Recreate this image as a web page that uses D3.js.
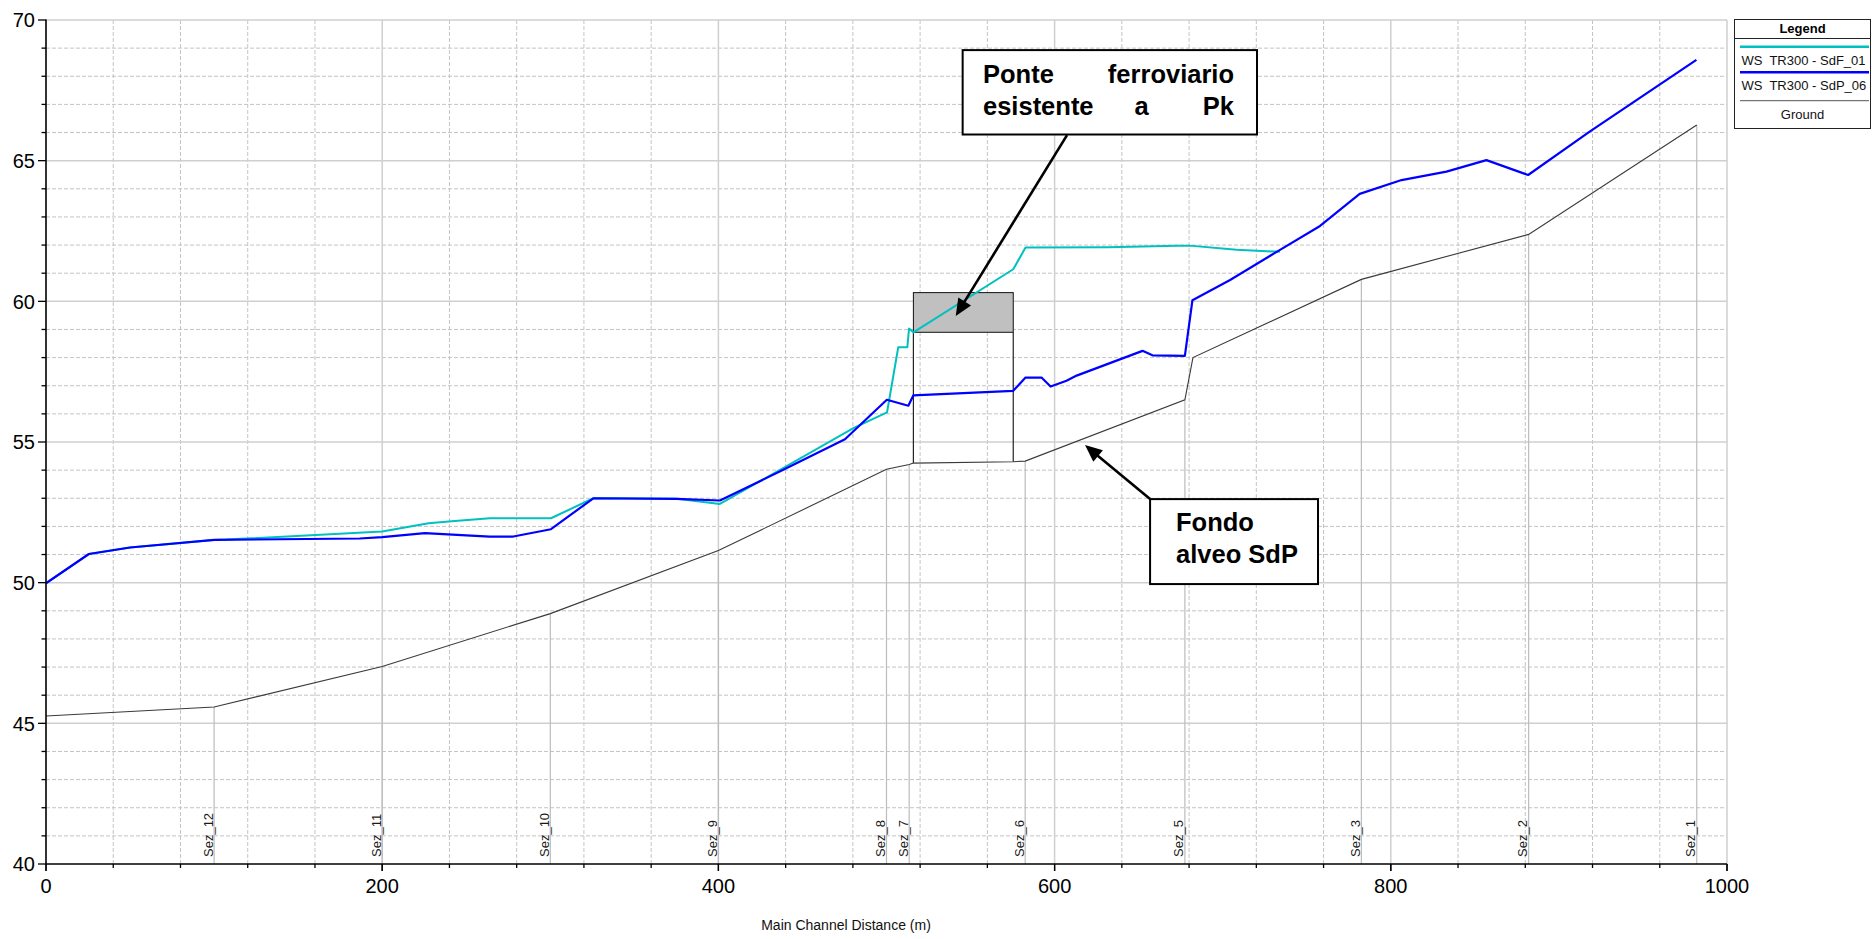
<!DOCTYPE html>
<html>
<head>
<meta charset="utf-8">
<script src="https://cdn.jsdelivr.net/npm/d3@7"></script>
<style>
  html, body { margin: 0; padding: 0; background: #fff; }
  svg { display: block; font-family: "Liberation Sans", Arial, sans-serif; }
  .keep-spaces { white-space: pre; }
</style>
</head>
<body>
<svg id="chart" width="1872" height="939"></svg>
<script>
// Longitudinal profile: main channel distance (m) vs elevation (m)
const groundProfile = [
  [0, 45.26], [100, 45.58], [200, 47.02], [300, 48.9], [400, 51.14],
  [500, 54.03], [513.5, 54.2], [516, 54.25], [575.4, 54.3], [582.5, 54.32],
  [677.5, 56.5], [682.3, 58.0], [782.5, 60.78], [882, 62.38], [982, 66.27]
];

const wsSdF01 = [
  [0, 49.98], [25.5, 51.02], [50, 51.25], [100, 51.52], [107, 51.53],
  [200, 51.82], [227.6, 52.11], [241.3, 52.18], [264, 52.29], [300.4, 52.29],
  [325.6, 53.0], [375.2, 52.98], [400.9, 52.8], [480.3, 55.49], [500.3, 56.05],
  [507, 58.37], [512.4, 58.37], [513.4, 59.03], [516, 58.9], [575.4, 61.14],
  [582.7, 61.91], [631.9, 61.92], [672.5, 61.98], [680.4, 61.98], [708.3, 61.83],
  [734, 61.76]
];

const wsSdP06 = [
  [0, 49.98], [25.5, 51.02], [50, 51.25], [100, 51.52], [186.6, 51.57],
  [200, 51.62], [225.4, 51.76], [250, 51.68], [264, 51.64], [278, 51.64],
  [300.4, 51.9], [325.6, 53.0], [375.2, 52.98], [400.9, 52.92], [438.6, 54.01],
  [475.3, 55.1], [500.2, 56.5], [513, 56.29], [516, 56.66], [575.4, 56.82],
  [582.7, 57.29], [592.2, 57.29], [597.6, 56.97], [607.1, 57.18], [613.1, 57.36],
  [652.3, 58.24], [658.2, 58.08], [677.5, 58.06], [682, 60.04], [704.4, 60.76],
  [732.1, 61.76], [757.9, 62.68], [781.5, 63.82], [806.4, 64.31], [833.1, 64.61],
  [856.9, 65.02], [881.7, 64.49], [918.3, 66.03], [981.8, 68.58]
];

// Cross sections
const sectionNames = ["Sez_12", "Sez_11", "Sez_10", "Sez_9", "Sez_8", "Sez_7",
                      "Sez_6", "Sez_5", "Sez_3", "Sez_2", "Sez_1"];
const sectionStations = [100, 200, 300, 400, 500, 513.5, 582.5, 677.5, 782.5, 882, 982];

// Railway bridge deck: stations and (low chord, high chord) elevations
const bridgeStations = [516, 575.4];
const bridgeChords = [58.9, 60.31];
const bridgeFootings = [54.25, 54.3];

// Axis ticks
const xMajorTicks = [0, 200, 400, 600, 800, 1000];
const yMajorTicks = [40, 45, 50, 55, 60, 65, 70];

const legendItems = [
  { label: "WS  TR300 - SdF_01", color: "#00c0c0", width: 2.5 },
  { label: "WS  TR300 - SdP_06", color: "#0000ff", width: 2.5 },
  { label: "Ground", color: "#555555", width: 1 }
];

const svg = d3.select("#chart");
const x = d3.scaleLinear().domain([0, 1000]).range([46, 1727]);
const y = d3.scaleLinear().domain([40, 70]).range([864, 20]);

svg.append("rect").attr("width", 1872).attr("height", 939).attr("fill", "#fff");

// Grid
const grid = svg.append("g");
const yMinor = d3.range(41, 70).filter(v => v % 5 !== 0);
const xMinor = d3.range(40, 1000, 40).filter(v => v % 200 !== 0);
grid.selectAll(".hmin").data(yMinor).join("line")
  .attr("x1", x(0)).attr("x2", x(1000)).attr("y1", d => y(d)).attr("y2", d => y(d))
  .attr("stroke", "#c4c4c4").attr("stroke-width", 1).attr("stroke-dasharray", "4,2");
grid.selectAll(".vmin").data(xMinor).join("line")
  .attr("y1", y(40)).attr("y2", y(70)).attr("x1", d => x(d)).attr("x2", d => x(d))
  .attr("stroke", "#c4c4c4").attr("stroke-width", 1).attr("stroke-dasharray", "4,2");
grid.selectAll(".hmaj").data(yMajorTicks.filter(v => v > 40)).join("line")
  .attr("x1", x(0)).attr("x2", x(1000)).attr("y1", d => y(d)).attr("y2", d => y(d))
  .attr("stroke", "#cfcfcf").attr("stroke-width", 1.5);
grid.selectAll(".vmaj").data(xMajorTicks.filter(v => v > 0)).join("line")
  .attr("y1", y(40)).attr("y2", y(70)).attr("x1", d => x(d)).attr("x2", d => x(d))
  .attr("stroke", "#cfcfcf").attr("stroke-width", 1.5);

// Ground elevation at a station
const bisect = d3.bisector(d => d[0]).left;
function groundAt(s) {
  const i = bisect(groundProfile, s);
  if (i <= 0) return groundProfile[0][1];
  if (i >= groundProfile.length) return groundProfile[groundProfile.length - 1][1];
  const a = groundProfile[i - 1], b = groundProfile[i];
  return a[1] + (b[1] - a[1]) * (s - a[0]) / (b[0] - a[0]);
}

// Cross-section markers
const sections = sectionNames.map((n, i) => ({ name: n, s: sectionStations[i] }));
const sec = svg.append("g");
sec.selectAll("line").data(sections).join("line")
  .attr("x1", d => x(d.s)).attr("x2", d => x(d.s))
  .attr("y1", y(40)).attr("y2", d => y(groundAt(d.s)))
  .attr("stroke", "#bcbcbc").attr("stroke-width", 1.2);
sec.selectAll("text").data(sections).join("text")
  .attr("transform", d => `translate(${x(d.s) - 1.5},${y(40) - 7}) rotate(-90)`)
  .attr("font-size", 13).attr("fill", "#1a1a1a")
  .text(d => d.name);

// Bridge
const br = svg.append("g");
br.append("rect")
  .attr("x", x(bridgeStations[0])).attr("y", y(bridgeChords[1]))
  .attr("width", x(bridgeStations[1]) - x(bridgeStations[0]))
  .attr("height", y(bridgeChords[0]) - y(bridgeChords[1]))
  .attr("fill", "#c0c0c0").attr("stroke", "#111").attr("stroke-width", 1);
br.selectAll("line").data([0, 1]).join("line")
  .attr("x1", i => x(bridgeStations[i])).attr("x2", i => x(bridgeStations[i]))
  .attr("y1", y(bridgeChords[0])).attr("y2", i => y(bridgeFootings[i]))
  .attr("stroke", "#222").attr("stroke-width", 1.2);

// Profiles
const line = d3.line().x(d => x(d[0])).y(d => y(d[1]));
svg.append("path").datum(groundProfile).attr("d", line)
  .attr("fill", "none").attr("stroke", "#3a3a3a").attr("stroke-width", 1.1);
svg.append("path").datum(wsSdF01).attr("d", line)
  .attr("fill", "none").attr("stroke", "#00c0c0").attr("stroke-width", 2).attr("stroke-linejoin", "round");
svg.append("path").datum(wsSdP06).attr("d", line)
  .attr("fill", "none").attr("stroke", "#0000ff").attr("stroke-width", 2.2).attr("stroke-linejoin", "round");

// Axes
const ax = svg.append("g").attr("stroke", "#000");
ax.append("line").attr("x1", x(0)).attr("x2", x(0)).attr("y1", y(70) - 0.5).attr("y2", y(40))
  .attr("stroke-width", 1.6);
ax.append("line").attr("x1", x(0)).attr("x2", x(1000)).attr("y1", y(40)).attr("y2", y(40))
  .attr("stroke-width", 1.6);
ax.selectAll(".yt").data(d3.range(40, 71)).join("line")
  .attr("x1", d => x(0) - (d % 5 === 0 ? 8 : 4.5)).attr("x2", x(0))
  .attr("y1", d => y(d)).attr("y2", d => y(d)).attr("stroke-width", 1.3);
ax.selectAll(".xt").data(d3.range(0, 1001, 40).concat(xMajorTicks)).join("line")
  .attr("x1", d => x(d)).attr("x2", d => x(d))
  .attr("y1", y(40)).attr("y2", d => y(40) + (d % 200 === 0 ? 7 : 4)).attr("stroke-width", 1.3);

svg.append("g").selectAll("text").data(yMajorTicks).join("text")
  .attr("x", x(0) - 11).attr("y", d => y(d)).attr("dy", "0.36em")
  .attr("text-anchor", "end").attr("font-size", 20).attr("fill", "#000")
  .text(d => d);
svg.append("g").selectAll("text").data(xMajorTicks).join("text")
  .attr("x", d => x(d)).attr("y", y(40) + 29)
  .attr("text-anchor", "middle").attr("font-size", 20).attr("fill", "#000")
  .text(d => d);

svg.append("text").attr("x", 846).attr("y", 930).attr("text-anchor", "middle")
  .attr("font-size", 14).attr("fill", "#111").text("Main Channel Distance (m)");

// Annotations
function arrow(from, to) {
  const x0 = x(from[0]), y0 = y(from[1]), x1 = x(to[0]), y1 = y(to[1]);
  const dx = x1 - x0, dy = y1 - y0, len = Math.hypot(dx, dy);
  const ux = dx / len, uy = dy / len, L = 17, w = 7.5;
  const bx = x1 - ux * L, by = y1 - uy * L;
  svg.append("line").attr("x1", x0).attr("y1", y0).attr("x2", bx + ux * 2).attr("y2", by + uy * 2)
    .attr("stroke", "#000").attr("stroke-width", 2.6);
  svg.append("polygon")
    .attr("points", [[x1, y1], [bx - uy * w, by + ux * w], [bx + uy * w, by - ux * w]].map(p => p.join(",")).join(" "))
    .attr("fill", "#000");
}

function noteBox(s0, s1, z0, z1) {
  svg.append("rect").attr("x", x(s0)).attr("y", y(z0))
    .attr("width", x(s1) - x(s0)).attr("height", y(z1) - y(z0))
    .attr("fill", "#fff").attr("stroke", "#000").attr("stroke-width", 2);
}

arrow([607.4, 65.91], [541.2, 59.48]);
arrow([656.8, 52.97], [618.1, 54.89]);

noteBox(545.3, 720.4, 68.93, 65.93);
const n1 = svg.append("g").attr("font-size", 25.5).attr("font-weight", "bold").attr("fill", "#000");
n1.append("text").attr("x", 983).attr("y", 83).text("Ponte");
n1.append("text").attr("x", 1234).attr("y", 83).attr("text-anchor", "end").text("ferroviario");
n1.append("text").attr("x", 983).attr("y", 115).text("esistente");
n1.append("text").attr("x", 1141.5).attr("y", 115).attr("text-anchor", "middle").text("a");
n1.append("text").attr("x", 1234).attr("y", 115).attr("text-anchor", "end").text("Pk");

noteBox(656.8, 756.7, 52.97, 49.95);
const n2 = svg.append("g").attr("font-size", 25.5).attr("font-weight", "bold").attr("fill", "#000");
n2.append("text").attr("x", 1176).attr("y", 531).text("Fondo");
n2.append("text").attr("x", 1176).attr("y", 563).text("alveo SdP");

// Legend
const lg = svg.append("g");
lg.append("rect").attr("x", 1734.5).attr("y", 19.5).attr("width", 136).attr("height", 109)
  .attr("fill", "#fff").attr("stroke", "#222").attr("stroke-width", 1);
lg.append("line").attr("x1", 1734.5).attr("x2", 1870.5).attr("y1", 38.5).attr("y2", 38.5)
  .attr("stroke", "#222").attr("stroke-width", 1);
lg.append("text").attr("x", 1802.5).attr("y", 33).attr("text-anchor", "middle")
  .attr("font-size", 13).attr("font-weight", "bold").text("Legend");
const rowY = [46.7, 72.3, 100.7];
legendItems.forEach((it, i) => {
  lg.append("line").attr("x1", 1740).attr("x2", 1869).attr("y1", rowY[i]).attr("y2", rowY[i])
    .attr("stroke", it.color).attr("stroke-width", it.width);
  const t = lg.append("text").attr("class", "keep-spaces").attr("y", rowY[i] + 18)
    .attr("font-size", 13).attr("fill", "#111").text(it.label);
  if (i < 2) t.attr("x", 1741.5);
  else t.attr("x", 1802.5).attr("text-anchor", "middle");
});
</script>
</body>
</html>
